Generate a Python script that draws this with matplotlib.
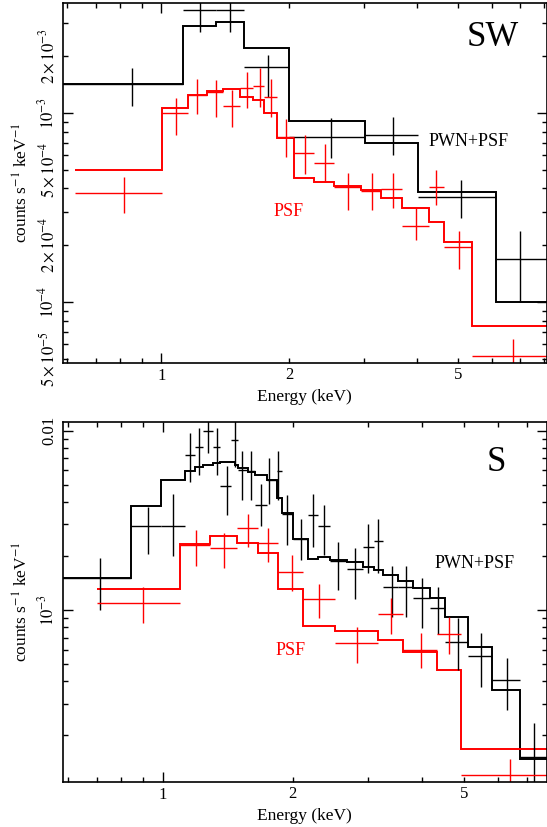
import matplotlib
matplotlib.use("Agg")
import matplotlib.pyplot as plt
import numpy as np

plt.rcParams['font.family'] = ['Liberation Serif', 'DejaVu Serif']
plt.rcParams['mathtext.fontset'] = 'stix'

# ---------------- SW panel ----------------
# model step histograms (bin edges in keV, values in counts/s/keV)
sw_tot_edges = [0.5, 1.123, 1.346, 1.567, 2.0, 3.02, 4.02, 6.15, 9.0]
sw_tot_model = [1.42e-3, 2.91e-3, 3.02e-3, 2.21e-3, 9.14e-4, 6.99e-4, 3.82e-4, 1.0e-4]
sw_psf_edges = [0.626, 1.005, 1.152, 1.284, 1.400, 1.533, 1.648, 1.746, 1.877,
                2.055, 2.29, 2.555, 2.95, 3.29, 3.70, 4.28, 4.64, 5.40, 9.0]
sw_psf_model = [5.0e-4, 1.06e-3, 1.25e-3, 1.31e-3, 1.34e-3, 1.22e-3, 1.18e-3, 1.0e-3,
                7.4e-4, 4.53e-4, 4.34e-4, 4.12e-4, 3.93e-4, 3.55e-4, 3.14e-4, 2.67e-4,
                2.09e-4, 7.5e-5]

# data points: energy, bin low/high, value, error low/high
sw_tot_e = [0.853, 1.234, 1.452, 1.782, 2.51, 3.52, 5.08, 7.0]
sw_tot_elo = [0.5, 1.123, 1.346, 1.567, 2.0, 3.02, 4.02, 6.15]
sw_tot_ehi = [1.123, 1.346, 1.567, 2.0, 3.02, 4.02, 6.15, 9.0]
sw_tot_y = [1.42e-3, 3.51e-3, 3.51e-3, 1.764e-3, 7.52e-4, 7.7e-4, 3.62e-4, 1.69e-4]
sw_tot_ylo = [1.093e-3, 2.68e-3, 2.68e-3, 1.224e-3, 5.78e-4, 6.02e-4, 2.78e-4, 1.0e-4]
sw_tot_yhi = [1.74e-3, 4.5e-3, 4.5e-3, 2.03e-3, 9.4e-4, 9.5e-4, 4.44e-4, 2.37e-4]

sw_psf_e = [0.815, 1.081, 1.216, 1.344, 1.47, 1.595, 1.707, 1.81, 1.97,
            2.18, 2.43, 2.76, 3.13, 3.52, 3.98, 4.44, 5.02, 6.73]
sw_psf_elo = [0.626, 1.005, 1.152, 1.284, 1.400, 1.533, 1.648, 1.746, 1.877,
              2.055, 2.29, 2.555, 2.95, 3.29, 3.70, 4.28, 4.64, 5.40]
sw_psf_ehi = [1.005, 1.152, 1.284, 1.400, 1.533, 1.648, 1.746, 1.877, 2.055,
              2.29, 2.555, 2.95, 3.29, 3.70, 4.28, 4.64, 5.40, 9.0]
sw_psf_y = [3.77e-4, 1.0e-3, 1.25e-3, 1.30e-3, 1.09e-3, 1.355e-3, 1.40e-3, 1.22e-3, 7.5e-4,
            6.14e-4, 5.48e-4, 4.09e-4, 3.90e-4, 3.96e-4, 2.54e-4, 4.09e-4, 1.97e-4, 5.22e-5]
sw_psf_ylo = [2.95e-4, 7.67e-4, 9.9e-4, 9.5e-4, 8.5e-4, 1.06e-3, 1.08e-3, 9.5e-4, 5.85e-4,
              4.76e-4, 4.35e-4, 3.08e-4, 3.08e-4, 3.14e-4, 2.14e-4, 3.27e-4, 1.50e-4, 4.0e-5]
sw_psf_yhi = [4.6e-4, 1.2e-3, 1.52e-3, 1.50e-3, 1.33e-3, 1.65e-3, 1.73e-3, 1.52e-3, 9.3e-4,
              7.67e-4, 6.9e-4, 4.85e-4, 4.85e-4, 4.85e-4, 3.14e-4, 5.0e-4, 2.37e-4, 6.4e-5]

# ---------------- S panel ----------------
s_tot_edges = [0.5, 0.844, 0.991, 1.123, 1.185, 1.239, 1.307, 1.355, 1.468, 1.494, 1.571,
               1.634, 1.740, 1.835, 1.886, 2.006, 2.173, 2.293, 2.442, 2.67, 2.92, 3.10,
               3.25, 3.52, 3.81, 4.17, 4.52, 5.12, 5.81, 6.77, 9.0]
s_tot_model = [1.50e-3, 3.82e-3, 5.33e-3, 5.98e-3, 6.25e-3, 6.46e-3, 6.58e-3, 6.66e-3,
               6.46e-3, 6.2e-3, 5.86e-3, 5.64e-3, 5.33e-3, 4.21e-3, 3.47e-3, 2.48e-3,
               1.925e-3, 1.98e-3, 1.90e-3, 1.845e-3, 1.73e-3, 1.67e-3, 1.57e-3, 1.457e-3,
               1.32e-3, 1.16e-3, 9.18e-4, 6.24e-4, 3.55e-4, 1.476e-4]
s_psf_edges = [0.70, 1.093, 1.284, 1.486, 1.663, 1.852, 2.116, 2.51, 3.16, 3.61, 4.33, 4.92, 9.0]
s_psf_model = [1.31e-3, 2.34e-3, 2.58e-3, 2.36e-3, 2.08e-3, 1.305e-3, 8.17e-4, 7.63e-4,
               6.8e-4, 5.85e-4, 4.59e-4, 1.68e-4]

s_tot_e = [0.715, 0.920, 1.055, 1.154, 1.21, 1.273, 1.331, 1.404, 1.468, 1.527, 1.599,
           1.685, 1.764, 1.846, 1.937, 2.09, 2.233, 2.367, 2.552, 2.79, 3.0, 3.16, 3.40,
           3.68, 3.99, 4.36, 4.85, 5.47, 6.29, 7.28]
s_tot_elo = [0.5, 0.844, 0.991, 1.123, 1.185, 1.239, 1.307, 1.355, 1.440, 1.494, 1.571,
             1.634, 1.740, 1.835, 1.886, 2.006, 2.173, 2.293, 2.442, 2.67, 2.92, 3.10,
             3.25, 3.52, 3.81, 4.17, 4.52, 5.12, 5.81, 6.77]
s_tot_ehi = [0.844, 0.991, 1.123, 1.185, 1.239, 1.307, 1.355, 1.440, 1.494, 1.571, 1.634,
             1.740, 1.835, 1.886, 2.006, 2.173, 2.293, 2.442, 2.67, 2.92, 3.10, 3.25,
             3.52, 3.81, 4.17, 4.52, 5.12, 5.81, 6.77, 9.0]
s_tot_y = [1.5e-3, 2.95e-3, 2.95e-3, 7.34e-3, 8.08e-3, 1.0e-2, 8.08e-3, 4.9e-3, 8.9e-3,
           6.06e-3, 5.94e-3, 3.84e-3, 5.33e-3, 5.94e-3, 3.43e-3, 2.48e-3, 3.39e-3, 2.94e-3,
           1.88e-3, 1.69e-3, 2.23e-3, 2.43e-3, 1.34e-3, 1.34e-3, 1.16e-3, 1.02e-3, 6.66e-4,
           5.54e-4, 4.07e-4, 1.52e-4]
s_tot_ylo = [1.0e-3, 2.05e-3, 2.01e-3, 5.15e-3, 5.69e-3, 7.5e-3, 5.69e-3, 3.4e-3, 6.3e-3,
             4.12e-3, 4.12e-3, 2.93e-3, 3.9e-3, 4.12e-3, 2.29e-3, 1.9e-3, 2.25e-3, 2.03e-3,
             1.29e-3, 1.15e-3, 1.6e-3, 1.6e-3, 9.1e-4, 9.1e-4, 7.9e-4, 7.35e-4, 4.6e-4,
             3.73e-4, 2.77e-4, 9.0e-5]
s_tot_yhi = [1.96e-3, 3.77e-3, 4.42e-3, 9.73e-3, 1.04e-2, 1.2e-2, 1.04e-2, 6.39e-3, 1.2e-2,
             7.68e-3, 7.68e-3, 5.06e-3, 7.0e-3, 7.68e-3, 4.4e-3, 3.2e-3, 4.44e-3, 3.85e-3,
             2.4e-3, 2.21e-3, 3.0e-3, 3.2e-3, 1.76e-3, 1.76e-3, 1.5e-3, 1.34e-3, 9.0e-4,
             7.41e-4, 5.38e-4, 2.33e-4]

s_psf_e = [0.899, 1.19, 1.384, 1.577, 1.755, 1.99, 2.30, 2.83, 3.39, 3.98, 4.62, 6.42]
s_psf_elo = [0.70, 1.093, 1.284, 1.486, 1.663, 1.852, 2.116, 2.51, 3.16, 3.61, 4.33, 4.92]
s_psf_ehi = [1.093, 1.284, 1.486, 1.663, 1.852, 2.116, 2.51, 3.16, 3.61, 4.33, 4.92, 9.0]
s_psf_y = [1.098e-3, 2.31e-3, 2.22e-3, 2.87e-3, 2.36e-3, 1.63e-3, 1.147e-3, 6.57e-4,
           9.5e-4, 5.98e-4, 7.35e-4, 1.2e-4]
s_psf_ylo = [8.43e-4, 1.75e-3, 1.72e-3, 2.24e-3, 1.85e-3, 1.27e-3, 8.99e-4, 5.04e-4,
             7.35e-4, 4.73e-4, 5.7e-4, 9.0e-5]
s_psf_yhi = [1.34e-3, 2.8e-3, 2.69e-3, 3.43e-3, 2.87e-3, 2.03e-3, 1.4e-3, 8.07e-4,
             1.16e-3, 7.47e-4, 9.1e-4, 1.48e-4]

x_minor = [0.6, 0.7, 0.8, 0.9, 2, 3, 4, 5, 6, 7, 8]


def draw_data(ax, e, elo, ehi, y, ylo, yhi, color):
    e = np.array(e); y = np.array(y)
    xerr = [e - np.array(elo), np.array(ehi) - e]
    yerr = [y - np.array(ylo), np.array(yhi) - y]
    ax.errorbar(e, y, xerr=xerr, yerr=yerr, fmt='none', ecolor=color,
                elinewidth=1.0, capsize=0)


def style_axes(ax, xlim, ylim):
    ax.set_xticks([1], labels=['1'])
    ax.set_xticks(x_minor, labels=[str(v) if v in (2, 5) else '' for v in x_minor], minor=True)
    ax.set_xlim(*xlim)
    ax.set_ylim(*ylim)
    ax.tick_params(which='both', direction='in', top=True, right=True, labelsize=12, width=1.0)
    ax.tick_params(which='major', length=7)
    ax.tick_params(which='minor', length=3.5)
    ax.set_xlabel('Energy (keV)', fontsize=12.5, labelpad=4)
    ax.set_ylabel(r'counts s$^{-1}$ keV$^{-1}$', fontsize=12.5, labelpad=4)
    for lab in ax.get_yticklabels(which='both'):
        lab.set_rotation(90)
        lab.set_va('center')
    for sp in ax.spines.values():
        sp.set_linewidth(1.2)


fig = plt.figure(figsize=(5.47, 8.27), dpi=100)
ax1 = fig.add_axes([0.1146, 0.5614, 0.885, 0.435])
ax2 = fig.add_axes([0.1146, 0.0548, 0.885, 0.4346])
for ax in (ax1, ax2):
    ax.set_xscale('log')
    ax.set_yscale('log')

# SW panel
ax1.stairs(sw_tot_model, sw_tot_edges, color='black', lw=1.4, baseline=None)
ax1.stairs(sw_psf_model, sw_psf_edges, color='red', lw=1.4, baseline=None)
draw_data(ax1, sw_tot_e, sw_tot_elo, sw_tot_ehi, sw_tot_y, sw_tot_ylo, sw_tot_yhi, 'black')
draw_data(ax1, sw_psf_e, sw_psf_elo, sw_psf_ehi, sw_psf_y, sw_psf_ylo, sw_psf_yhi, 'red')
ax1.set_yticks([1e-4, 1e-3], labels=[r'$10^{-4}$', r'$10^{-3}$'])
yminor1 = [5e-5, 6e-5, 7e-5, 8e-5, 9e-5, 2e-4, 3e-4, 4e-4, 5e-4, 6e-4, 7e-4, 8e-4, 9e-4, 2e-3, 3e-3]
ylab1 = {5e-5: r'$5\times10^{-5}$', 2e-4: r'$2\times10^{-4}$', 5e-4: r'$5\times10^{-4}$',
         2e-3: r'$2\times10^{-3}$'}
ax1.set_yticks(yminor1, labels=[ylab1.get(v, '') for v in yminor1], minor=True)
style_axes(ax1, (0.585, 8.1), (4.79e-5, 3.83e-3))
ax1.text(0.889, 0.905, 'SW', transform=ax1.transAxes, fontsize=25, ha='center', va='center')
ax1.text(0.839, 0.614, 'PWN+PSF', transform=ax1.transAxes, fontsize=13, ha='center', va='center')
ax1.text(0.466, 0.421, 'PSF', transform=ax1.transAxes, fontsize=13, ha='center', va='center',
         color='red')

# S panel
ax2.stairs(s_tot_model, s_tot_edges, color='black', lw=1.4, baseline=None)
ax2.stairs(s_psf_model, s_psf_edges, color='red', lw=1.4, baseline=None)
draw_data(ax2, s_tot_e, s_tot_elo, s_tot_ehi, s_tot_y, s_tot_ylo, s_tot_yhi, 'black')
draw_data(ax2, s_psf_e, s_psf_elo, s_psf_ehi, s_psf_y, s_psf_ylo, s_psf_yhi, 'red')
ax2.set_yticks([1e-3, 1e-2], labels=[r'$10^{-3}$', '0.01'])
yminor2 = [2e-4, 3e-4, 4e-4, 5e-4, 6e-4, 7e-4, 8e-4, 9e-4,
           2e-3, 3e-3, 4e-3, 5e-3, 6e-3, 7e-3, 8e-3, 9e-3]
ax2.set_yticks(yminor2, labels=['' for v in yminor2], minor=True)
style_axes(ax2, (0.584, 7.8), (1.10e-4, 1.114e-2))
ax2.text(0.895, 0.889, 'S', transform=ax2.transAxes, fontsize=25, ha='center', va='center')
ax2.text(0.85, 0.608, 'PWN+PSF', transform=ax2.transAxes, fontsize=13, ha='center', va='center')
ax2.text(0.470, 0.366, 'PSF', transform=ax2.transAxes, fontsize=13, ha='center', va='center',
         color='red')

fig.savefig('out.png', dpi=100)
